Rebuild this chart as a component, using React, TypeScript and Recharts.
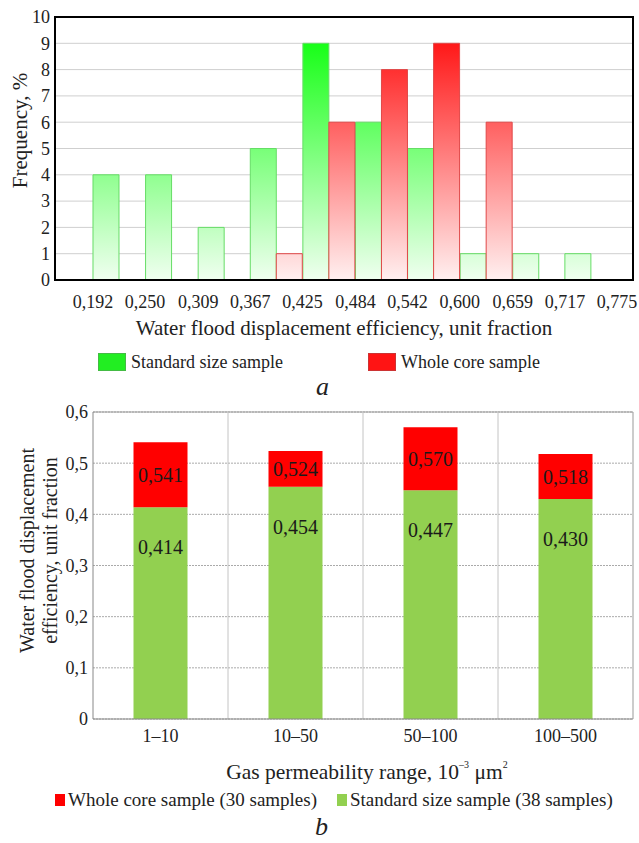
import React from 'react';
import {
  Bar,
  BarChart,
  CartesianGrid,
  Label,
  LabelList,
  ReferenceArea,
  ReferenceLine,
  XAxis,
  YAxis,
} from 'recharts';

// (a) histogram: bin edges and frequencies, %
const EDGES = [0.192, 0.25, 0.309, 0.367, 0.425, 0.484, 0.542, 0.6, 0.659, 0.717, 0.775];
const STANDARD_FREQ = [4, 4, 2, 5, 9, 6, 5, 1, 1, 1];
const WHOLE_FREQ = [0, 0, 0, 1, 6, 8, 9, 6, 0, 0];
const FREQ_TICKS = [0, 1, 2, 3, 4, 5, 6, 7, 8, 9, 10];

// (b) mean displacement efficiency by permeability range
const RANGES = ['1–10', '10–50', '50–100', '100–500'];
const STANDARD_EFF = [0.414, 0.454, 0.447, 0.43];
const WHOLE_EFF = [0.541, 0.524, 0.57, 0.518];
const EFF_TICKS = [0, 0.1, 0.2, 0.3, 0.4, 0.5, 0.6];

const histData = STANDARD_FREQ.map((s, i) => ({
  mid: (EDGES[i] + EDGES[i + 1]) / 2,
  standard: s,
  whole: WHOLE_FREQ[i],
}));
const effData = RANGES.map((r, i) => ({
  range: r,
  standard: STANDARD_EFF[i],
  whole: WHOLE_EFF[i],
  rest: +(WHOLE_EFF[i] - STANDARD_EFF[i]).toFixed(3),
}));

// the plot runs a little past the first and last bin edge
const BIN_W = (EDGES[EDGES.length - 1] - EDGES[0]) / STANDARD_FREQ.length;
const X_DOMAIN: [number, number] = [EDGES[0] - 0.725 * BIN_W, EDGES[EDGES.length - 1] + 0.305 * BIN_W];

const comma = (v: number, d: number) => (v === 0 ? '0' : v.toFixed(d).replace('.', ','));

const FONT = '"Liberation Serif", "Times New Roman", Times, serif';
const INK = '#222';
const tickStyle = { fontSize: 18, fill: INK, fontFamily: FONT };

// plot area of the histogram, used for the gradient span
const H_TOP = 17;
const H_BOTTOM = 280;

const freqTitle = ({ viewBox }: any) => {
  const cy = viewBox.y + viewBox.height / 2 - 18;
  return (
    <text x={20} y={cy} transform={`rotate(-90 20 ${cy})`} textAnchor="middle" dominantBaseline="central" fontSize={21} fill={INK} fontFamily={FONT}>
      Frequency, %
    </text>
  );
};

const efficiencyTitle = ({ viewBox }: any) => (
  <text x={viewBox.x + viewBox.width / 2} y={viewBox.y + 48} textAnchor="middle" dominantBaseline="central" fontSize={21} fill={INK} fontFamily={FONT}>
    Water flood displacement efficiency, unit fraction
  </text>
);

const effYTitle = ({ viewBox }: any) => {
  const cy = viewBox.y + viewBox.height / 2 - 15;
  return (
    <g transform={`rotate(-90 38 ${cy})`} fontFamily={FONT} fontSize={20} fill={INK}>
      <text x={38} y={cy - 11} textAnchor="middle" dominantBaseline="central">
        Water flood displacement
      </text>
      <text x={38} y={cy + 12} textAnchor="middle" dominantBaseline="central">
        efficiency, unit fraction
      </text>
    </g>
  );
};

const gasTitle = ({ viewBox }: any) => (
  <text x={viewBox.x + viewBox.width / 2 + 4} y={viewBox.y + 53} textAnchor="middle" dominantBaseline="central" fontSize={21.5} fill={INK} fontFamily={FONT}>
    Gas permeability range, 10
    <tspan dy={-8} fontSize={10}>–3</tspan>
    <tspan dy={8}> μm</tspan>
    <tspan dy={-8} fontSize={10}>2</tspan>
  </text>
);

function Histogram() {
  return (
    <BarChart
      width={639}
      height={345}
      data={histData}
      margin={{ top: H_TOP, right: 6, bottom: 0, left: 0 }}
      barCategoryGap={0}
      barGap={0}
    >
      <defs>
        <linearGradient id="gGreen" gradientUnits="userSpaceOnUse" x1={0} y1={H_TOP} x2={0} y2={H_BOTTOM}>
          <stop offset="0" stopColor="#00ff00" />
          <stop offset="1" stopColor="#f0fff0" />
        </linearGradient>
        <linearGradient id="gRed" gradientUnits="userSpaceOnUse" x1={0} y1={H_TOP} x2={0} y2={H_BOTTOM}>
          <stop offset="0" stopColor="#ff0000" />
          <stop offset="1" stopColor="#fff0f0" />
        </linearGradient>
      </defs>
      <CartesianGrid vertical={false} stroke="#cfcfcf" />
      <XAxis
        dataKey="mid"
        type="number"
        domain={X_DOMAIN}
        ticks={EDGES}
        allowDataOverflow
        interval={0}
        height={65}
        tickFormatter={(v) => comma(Number(v), 3)}
        tick={tickStyle}
        tickLine={false}
        tickSize={0}
        tickMargin={15}
        axisLine={{ stroke: '#000', strokeWidth: 2 }}
      >
        <Label content={efficiencyTitle} />
      </XAxis>
      <YAxis
        domain={[0, 10]}
        ticks={FREQ_TICKS}
        interval={0}
        width={55}
        tick={tickStyle}
        tickLine={false}
        tickSize={0}
        tickMargin={5}
        axisLine={{ stroke: '#000', strokeWidth: 2 }}
      >
        <Label content={freqTitle} />
      </YAxis>
      <Bar dataKey="standard" fill="url(#gGreen)" stroke="#66dd66" strokeWidth={1} isAnimationActive={false} />
      <Bar dataKey="whole" fill="url(#gRed)" stroke="#e04848" strokeWidth={1} isAnimationActive={false} />
      <ReferenceArea
        x1={X_DOMAIN[0]}
        x2={X_DOMAIN[1]}
        y1={0}
        y2={10}
        fill="none"
        fillOpacity={0}
        stroke="#000"
        strokeWidth={2}
        ifOverflow="visible"
      />
    </BarChart>
  );
}

function EfficiencyChart() {
  return (
    <BarChart
      width={639}
      height={385}
      data={effData}
      margin={{ top: 12, right: 6, bottom: 0, left: 0 }}
      barCategoryGap="30%"
    >
      <CartesianGrid vertical={false} stroke="#aaaaaa" strokeDasharray="2 1" />
      <XAxis
        dataKey="range"
        height={66}
        tick={tickStyle}
        tickLine={false}
        tickSize={0}
        tickMargin={10}
        axisLine={{ stroke: '#888' }}
      >
        <Label content={gasTitle} />
      </XAxis>
      <YAxis
        domain={[0, 0.6]}
        ticks={EFF_TICKS}
        interval={0}
        width={93}
        tickFormatter={(v) => comma(Number(v), 1)}
        tick={tickStyle}
        tickLine={false}
        tickSize={0}
        tickMargin={5}
        axisLine={{ stroke: '#888' }}
      >
        <Label content={effYTitle} />
      </YAxis>
      <ReferenceLine y={0.6} stroke="#999" />
      {RANGES.slice(1).map((r) => (
        <ReferenceLine key={r} x={r} position="start" stroke="#c4c4c4" />
      ))}
      <ReferenceLine x={RANGES[RANGES.length - 1]} position="end" stroke="#999" />
      <Bar dataKey="standard" stackId="s" fill="#92d050" isAnimationActive={false}>
        <LabelList
          dataKey="standard"
          position="insideTop"
          offset={33}
          formatter={(v: any) => comma(Number(v), 3)}
          fill="#1a1a1a"
          fontSize={20}
          fontFamily={FONT}
        />
      </Bar>
      <Bar dataKey="rest" stackId="s" fill="#ff0000" isAnimationActive={false}>
        <LabelList
          dataKey="whole"
          position="inside"
          formatter={(v: any) => comma(Number(v), 3)}
          fill="#1a1a1a"
          fontSize={20}
          fontFamily={FONT}
        />
      </Bar>
    </BarChart>
  );
}

const swatch = (left: number, top: number, w: number, h: number, fill: string, border?: string) => (
  <div
    style={{
      position: 'absolute',
      left,
      top,
      width: w,
      height: h,
      background: fill,
      boxSizing: 'border-box',
      border: border ? `1px solid ${border}` : 'none',
    }}
  />
);

const caption = (left: number, top: number, size: number, text: string, italic = false) => (
  <div
    style={{
      position: 'absolute',
      left,
      top,
      fontSize: size,
      lineHeight: 1,
      color: INK,
      fontFamily: FONT,
      fontStyle: italic ? 'italic' : 'normal',
      whiteSpace: 'nowrap',
    }}
  >
    {text}
  </div>
);

export default function App() {
  return (
    <div
      style={{
        position: 'absolute',
        left: 0,
        top: 0,
        width: 639,
        height: 843,
        background: '#fff',
        fontFamily: FONT,
        overflow: 'hidden',
      }}
    >
      <div style={{ position: 'absolute', left: 0, top: 0 }}>
        <Histogram />
      </div>
      {swatch(98, 353, 28, 18, '#22ee22', '#44bb44')}
      {caption(131, 353, 18, 'Standard size sample')}
      {swatch(368, 353, 28, 18, '#ff1414', '#cc3333')}
      {caption(401, 353, 18, 'Whole core sample')}
      {caption(316, 374, 26, 'a', true)}

      <div style={{ position: 'absolute', left: 0, top: 400 }}>
        <EfficiencyChart />
      </div>
      {swatch(55, 794, 10, 12, '#ff0000')}
      {caption(68, 790, 19, 'Whole core sample (30 samples)')}
      {swatch(337, 794, 10, 12, '#92d050')}
      {caption(350, 790, 19, 'Standard size sample (38 samples)')}
      {caption(315, 814, 26, 'b', true)}
    </div>
  );
}
